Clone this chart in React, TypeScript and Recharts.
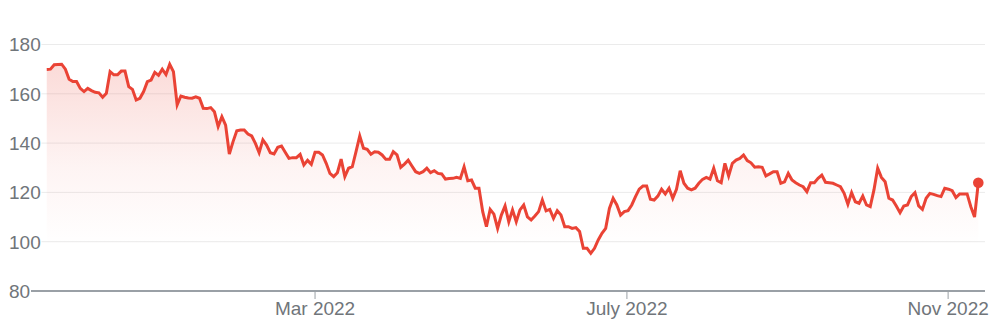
import React from 'react';
import { AreaChart, Area, XAxis, YAxis, CartesianGrid, ReferenceDot } from 'recharts';

// Daily closing prices, roughly Nov 2021 - Nov 2022
const prices = [
  169.9, 170.0, 171.8, 171.9, 172.0, 170.0, 165.9, 165.0, 165.0, 162.2,
  160.9, 162.2, 161.3, 160.6, 160.4, 158.6, 160.2, 169.0, 167.7, 167.7,
  169.2, 169.2, 162.9, 161.8, 157.5, 158.2, 160.9, 164.9, 165.6,
  168.7, 167.5, 170.0, 167.8, 172.0, 169.0, 155.5, 159.1, 158.6, 158.3,
  158.2, 158.8, 158.2, 154.1, 154.0, 154.4, 152.7, 146.7, 150.7, 147.3,
  135.6, 140.6, 145.0, 145.3, 145.3, 143.7, 142.9, 139.9, 136.1, 141.3,
  139.2, 136.1, 135.6, 138.3, 138.8, 136.3, 133.8, 134.1, 134.1, 135.4,
  131.1, 133.0, 131.4, 136.3, 136.3, 135.2, 131.8, 127.7, 126.4, 128.0,
  133.5, 126.4, 129.8, 130.4, 136.5, 142.9, 137.9, 137.5, 135.5, 136.5,
  136.3, 135.2, 133.4, 133.4, 136.5, 135.2, 130.2, 131.5, 133.1, 130.7,
  128.4, 127.7, 128.4, 129.8, 128.0, 128.8, 127.7, 127.5, 125.4, 125.6,
  125.7, 126.1, 125.7, 130.4, 124.7, 125.0, 121.7, 121.7, 112.2, 106.1,
  113.1, 111.2, 105.4, 110.8, 114.5, 108.1, 112.9, 108.1, 112.9, 114.9,
  110.1, 108.8, 110.4, 112.2, 116.9, 112.5, 113.1, 109.5, 112.6, 110.8,
  106.1, 106.1, 105.4, 105.7, 104.1, 97.3, 97.3, 95.3, 97.3, 100.7,
  103.4, 105.4, 113.5, 117.6, 114.9, 110.8, 112.2, 112.6, 114.9, 118.3,
  121.3, 122.6, 122.6, 117.2, 116.9, 118.5, 121.3, 119.4, 121.7, 117.6,
  121.3, 128.8, 123.7, 121.7, 121.0, 121.7, 123.7, 125.3, 126.1, 125.4,
  129.8, 124.7, 123.9, 131.8, 126.7, 131.8, 133.1, 133.8, 135.2, 132.9,
  132.0, 130.2, 130.4, 130.2, 126.7, 127.5, 128.4, 128.4, 123.7, 124.3,
  127.7, 125.0, 123.9, 123.0, 122.3, 120.3, 123.9, 123.9, 125.7, 127.0,
  124.1, 123.9, 123.7, 123.0, 122.3, 119.6, 115.2, 119.9, 116.2, 115.6,
  118.5, 114.9, 114.2, 121.0, 129.8, 126.1, 124.3, 117.6, 116.9, 114.5,
  111.8, 114.5, 114.9, 118.3, 119.9, 114.5, 113.1, 117.6, 119.6, 119.2,
  118.7, 118.3, 121.7, 121.3, 120.7, 117.9, 119.4, 119.4, 119.4, 114.2,
  110.0, 123.9,
];

const yTicks = [80, 100, 120, 140, 160, 180];
const xTickLabels = ['Mar 2022', 'July 2022', 'Nov 2022'];
// trading-day index where each month starts
const xTickIndex = [72, 155.7, 241.9];

const data = prices.map((price, i) => ({ i, price }));
const last = data[data.length - 1];

const RED = '#ea4335';
const GREY = '#70757a';

const renderYTick = (props: any) => {
  const { y, payload } = props;
  const label = String(payload.value);
  const w = label.length * 10.5 + 10;
  return (
    <g>
      <rect x={0} y={y - 10} width={w} height={20} fill="#fff" />
      <text x={9} y={y} dy="0.36em" fill={GREY} fontSize={19} textAnchor="start">
        {label}
      </text>
    </g>
  );
};

export default function App() {
  return (
    <div style={{ fontFamily: '"Liberation Sans", Arial, sans-serif' }}>
      <style>{'body{margin:0}'}</style>
      <AreaChart
        width={993}
        height={324}
        data={data}
        margin={{ top: 44.5, right: 8, bottom: 0, left: 0 }}
      >
        <defs>
          <linearGradient id="fillRed" x1="0" y1="0" x2="0" y2="1">
            <stop offset="0%" stopColor={RED} stopOpacity={0.32} />
            <stop offset="45%" stopColor={RED} stopOpacity={0.1} />
            <stop offset="80%" stopColor={RED} stopOpacity={0} />
          </linearGradient>
        </defs>
        <CartesianGrid vertical={false} stroke="#ebebeb" />
        <XAxis
          type="number"
          dataKey="i"
          domain={[-10.4, 251.8]}
          allowDataOverflow
          ticks={xTickIndex}
          tickFormatter={(v: number) => xTickLabels[xTickIndex.indexOf(v)]}
          axisLine={{ stroke: '#9aa0a6', strokeWidth: 2 }}
          tickLine={{ stroke: '#9aa0a6' }}
          tickSize={8}
          tickMargin={3}
          height={33}
          interval={0}
          tick={{ fill: GREY, fontSize: 19 }}
        />
        <Area
          type="linear"
          dataKey="price"
          stroke={RED}
          strokeWidth={3}
          fill="url(#fillRed)"
          dot={false}
          activeDot={false}
          isAnimationActive={false}
        />
        <YAxis
          domain={[80, 180]}
          ticks={yTicks}
          width={8}
          axisLine={false}
          tickLine={false}
          tick={renderYTick}
        />
        <ReferenceDot x={last.i} y={last.price} r={5.3} fill={RED} stroke="none" />
      </AreaChart>
    </div>
  );
}
